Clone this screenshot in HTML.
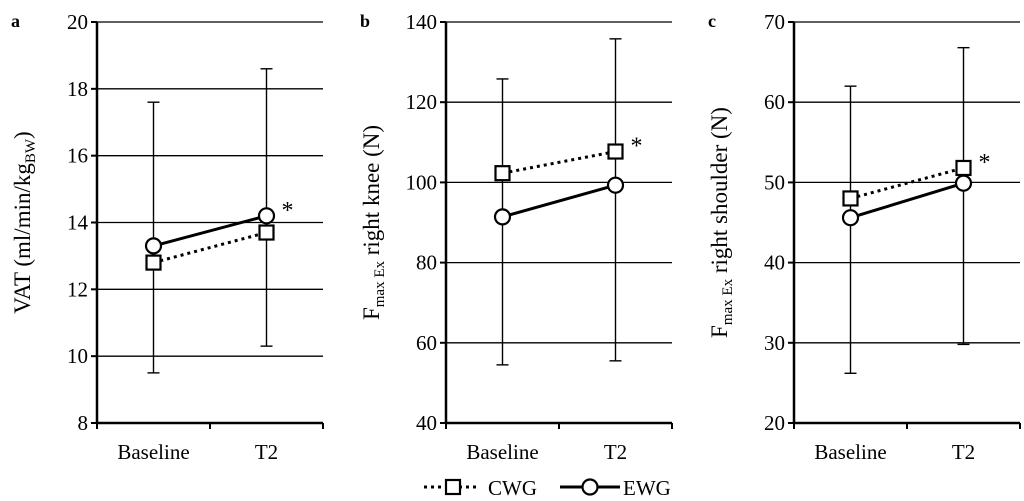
<!DOCTYPE html>
<html><head><meta charset="utf-8"><style>
body{margin:0;background:#fff}
svg{display:block;font-family:"Liberation Serif","Times New Roman",serif}
</style></head><body>
<svg id="chart" width="1024" height="501" font-family="Liberation Serif, Times New Roman, serif"></svg>
<script>
const categories=["Baseline","T2"];
const aCWG=[12.8,13.7], aEWG=[13.3,14.2], aErrLo=[9.5,10.3], aErrHi=[17.6,18.6];
const bCWG=[102.3,107.7], bEWG=[91.4,99.3], bErrLo=[54.5,55.5], bErrHi=[125.8,135.8];
const cCWG=[48,51.8], cEWG=[45.6,49.9], cErrLo=[26.2,29.8], cErrHi=[62,66.8];
const aTicks=[8,10,12,14,16,18,20], bTicks=[40,60,80,100,120,140], cTicks=[20,30,40,50,60,70];
const NS="http://www.w3.org/2000/svg";
const FF="Liberation Serif, Times New Roman, serif";
const svg=document.getElementById('chart');
function el(t,a,p){const e=document.createElementNS(NS,t);for(const k in a)e.setAttribute(k,a[k]);if(t==='text')e.setAttribute('font-family',FF);(p||svg).appendChild(e);return e;}
function panel(id,x0,ticks,cwg,ewg,lo,hi,letter,ylabelHTML){
  const g=el('g',{});
  
  
  const x1=x0+226,yT=22,yB=423,min=ticks[0],max=ticks[ticks.length-1];
  const Y=v=>yB-(v-min)/(max-min)*(yB-yT);
  const X=i=>x0+56.5+i*113;
  ticks.forEach(t=>{
    if(t!==min){const l=el('line',{x1:x0,x2:x1,y1:Y(t),y2:Y(t),stroke:'#000','stroke-width':1.3},g);
      
      }
    el('line',{x1:x0-6,x2:x0,y1:Y(t),y2:Y(t),stroke:'#000','stroke-width':2},g);
    const tx=el('text',{x:x0-9,y:Y(t)+7,'text-anchor':'end','font-size':21},g);tx.textContent=t;
    
    
  });
  el('line',{x1:x0,x2:x0,y1:yT,y2:yB,stroke:'#000','stroke-width':2.5},g);
  el('line',{x1:x0,x2:x1,y1:yB,y2:yB,stroke:'#000','stroke-width':2.5},g);
  [0,1,2].forEach(i=>el('line',{x1:x0+i*113,x2:x0+i*113,y1:yB,y2:yB+6,stroke:'#000','stroke-width':2},g));
  categories.forEach((c,i)=>{const t=el('text',{x:X(i),y:yB+36,'text-anchor':'middle','font-size':21},g);t.textContent=c;
    
    });
  categories.forEach((c,i)=>{
    const e=el('line',{x1:X(i),x2:X(i),y1:Y(lo[i]),y2:Y(hi[i]),stroke:'#000','stroke-width':1.4},g);
    
    
    el('line',{x1:X(i)-6,x2:X(i)+6,y1:Y(lo[i]),y2:Y(lo[i]),stroke:'#000','stroke-width':1.4},g);
    el('line',{x1:X(i)-6,x2:X(i)+6,y1:Y(hi[i]),y2:Y(hi[i]),stroke:'#000','stroke-width':1.4},g);
  });
  const lc=el('line',{x1:X(0),y1:Y(cwg[0]),x2:X(1),y2:Y(cwg[1]),stroke:'#000','stroke-width':3,'stroke-dasharray':'3 4'},g);
  
  
  const le=el('line',{x1:X(0),y1:Y(ewg[0]),x2:X(1),y2:Y(ewg[1]),stroke:'#000','stroke-width':3},g);
  
  
  cwg.forEach((v,i)=>{const r=el('rect',{x:X(i)-7,y:Y(v)-7,width:14,height:14,fill:'#fff',stroke:'#000','stroke-width':2.2},g);
    
    });
  ewg.forEach((v,i)=>{const r=el('circle',{cx:X(i),cy:Y(v),r:7.5,fill:'#fff',stroke:'#000','stroke-width':2.2},g);
    
    });
  const top=Math.min(Y(cwg[1]),Y(ewg[1]));
  const s=el('text',{x:X(1)+15,y:top+2,'font-size':24},g);s.textContent='*';
  
  
  const L=el('text',{x:x0-86,y:27,'font-size':18,'font-weight':'bold'},g);L.textContent=letter;
  
  
  const yl=el('text',{'font-size':23,'text-anchor':'middle'},g);
  yl.setAttribute('transform','translate('+(x0-67)+','+((yT+yB)/2)+') rotate(-90)');
  yl.innerHTML=ylabelHTML;
  
  
}
panel('a',97,aTicks,aCWG,aEWG,aErrLo,aErrHi,'a','VAT (ml/min/kg<tspan font-size="15" dy="5">BW</tspan><tspan dy="-5">)</tspan>');
panel('b',446,bTicks,bCWG,bEWG,bErrLo,bErrHi,'b','F<tspan font-size="15" dy="5">max Ex</tspan><tspan dy="-5"> right knee (N)</tspan>');
panel('c',794,cTicks,cCWG,cEWG,cErrLo,cErrHi,'c','F<tspan font-size="15" dy="5">max Ex</tspan><tspan dy="-5"> right shoulder (N)</tspan>');
const lg=el('g',{});


el('line',{x1:424,x2:480,y1:487,y2:487,stroke:'#000','stroke-width':3,'stroke-dasharray':'3 4'},lg);
el('rect',{x:446,y:480,width:14,height:14,fill:'#fff',stroke:'#000','stroke-width':2.2},lg);
const t1=el('text',{x:488,y:495,'font-size':21},lg);t1.textContent='CWG';


el('line',{x1:560,x2:620,y1:487,y2:487,stroke:'#000','stroke-width':3},lg);
el('circle',{cx:590,cy:487,r:7.5,fill:'#fff',stroke:'#000','stroke-width':2.2},lg);
const t2=el('text',{x:623,y:495,'font-size':21},lg);t2.textContent='EWG';


</script>
</body></html>
